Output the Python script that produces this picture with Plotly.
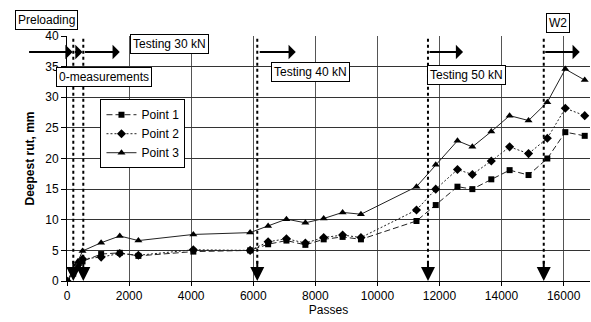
import plotly.graph_objects as go

passes = [0, 200, 350, 500, 1100, 1700, 2300, 4070, 5900, 6480, 7070, 7680, 8270, 8880, 9470,
          11260, 11880, 12580, 13060, 13670, 14260, 14870, 15475, 16055, 16680]
point1 = [0, 1.2, 2.2, 3.2, 4.4, 4.6, 4.1, 4.8, 5.0, 6.0, 6.6, 5.9, 6.8, 7.2, 6.8,
          9.8, 12.4, 15.4, 15.0, 16.6, 18.1, 17.3, 20.0, 24.3, 23.7]
point2 = [0, 1.5, 2.6, 3.6, 3.9, 4.5, 4.2, 5.1, 5.0, 6.4, 6.9, 6.2, 7.1, 7.5, 7.1,
          11.6, 15.0, 18.2, 17.4, 19.6, 21.9, 20.8, 23.3, 28.2, 27.0]
point3 = [0, 1.8, 3.2, 4.9, 6.25, 7.35, 6.6, 7.6, 7.9, 9.0, 10.1, 9.5, 10.2, 11.2, 10.9,
          15.4, 19.0, 22.9, 21.9, 24.4, 27.0, 26.2, 29.2, 34.6, 32.8]

x_ticks = [0, 2000, 4000, 6000, 8000, 10000, 12000, 14000, 16000]
y_ticks = [0, 5, 10, 15, 20, 25, 30, 35, 40]

# phase marker lines (passes) and horizontal phase arrows (start, end)
phase_lines = [203, 525, 6130, 11630, 15360]
phase_arrows = [(203, 500), (525, 1700), (6160, 7370), (11630, 12760), (15360, 16520)]
preload_arrow_end = 180
arrow_level = 37.4

# labels inside the data area: (text, x, y)
labels = [("Testing 30 kN", 3302, 38.7), ("0-measurements", 1192, 33.3),
          ("Testing 40 kN", 7829, 34.1), ("Testing 50 kN", 12880, 33.6)]
# labels above the plot area: (text, paper x, paper y)
top_labels = [("Preloading", -0.040, 1.064), ("W2", 0.9384, 1.053)]

FONT = "Arial, Liberation Sans, sans-serif"
fig = go.Figure()
fig.add_trace(go.Scatter(x=passes, y=point1, name="Point 1", mode="lines+markers",
                         line=dict(color="#222", width=1, dash="6px,3px"),
                         marker=dict(symbol="square", size=6, color="black")))
fig.add_trace(go.Scatter(x=passes, y=point2, name="Point 2", mode="lines+markers",
                         line=dict(color="#222", width=1, dash="2px,2px"),
                         marker=dict(symbol="diamond", size=7, color="black")))
fig.add_trace(go.Scatter(x=passes, y=point3, name="Point 3", mode="lines+markers",
                         line=dict(color="#222", width=1),
                         marker=dict(symbol="triangle-up", size=7, color="black")))

for xv in phase_lines:
    fig.add_shape(type="line", x0=xv, x1=xv, y0=41.5, y1=2.5, xref="x", yref="y",
                  line=dict(color="black", width=2, dash="dot"), layer="above")
    fig.add_annotation(x=xv, y=0, ax=xv, ay=3.5, xref="x", yref="y", axref="x", ayref="y",
                       text="", showarrow=True, arrowhead=2, arrowsize=1.4, arrowwidth=2,
                       arrowcolor="black")

fig.add_annotation(x=preload_arrow_end, y=arrow_level, ax=-45, ay=0, xref="x", yref="y",
                   text="", showarrow=True, arrowhead=1, arrowsize=1.2, arrowwidth=2,
                   arrowcolor="black")
for x0, x1 in phase_arrows:
    fig.add_annotation(x=x1, y=arrow_level, ax=x0, ay=arrow_level, xref="x", yref="y",
                       axref="x", ayref="y", text="", showarrow=True, arrowhead=1,
                       arrowsize=1.2, arrowwidth=2, arrowcolor="black")

for t, xv, yv in labels:
    fig.add_annotation(x=xv, y=yv, xref="x", yref="y", text=t, showarrow=False,
                       xanchor="center", yanchor="middle",
                       font=dict(family=FONT, size=12, color="black"),
                       bgcolor="white", bordercolor="black", borderwidth=1, borderpad=2)
for t, xv, yv in top_labels:
    fig.add_annotation(x=xv, y=yv, xref="paper", yref="paper", text=t, showarrow=False,
                       xanchor="center", yanchor="middle",
                       font=dict(family=FONT, size=12, color="black"),
                       bgcolor="white", bordercolor="black", borderwidth=1, borderpad=2)

fig.update_layout(
    width=591, height=322, margin=dict(l=67, r=1, t=36, b=41),
    plot_bgcolor="white", paper_bgcolor="white",
    font=dict(family=FONT, size=12, color="black"),
    legend=dict(x=0.064, y=0.742, xanchor="left", yanchor="top", bgcolor="white",
                bordercolor="black", borderwidth=1, font=dict(size=12),
                tracegroupgap=0),
    showlegend=True,
)
fig.update_xaxes(range=[0, 16850], tickvals=x_ticks, tickformat="d", ticks="outside",
                 ticklen=4, tickcolor="black", showline=True, linecolor="black", linewidth=1,
                 showgrid=True, gridcolor="#555", gridwidth=1, zeroline=False,
                 title=dict(text="Passes", font=dict(size=12), standoff=2),
                 tickfont=dict(size=12))
fig.update_yaxes(range=[0, 40], tickvals=y_ticks, ticks="outside", ticklen=5,
                 tickcolor="black", showline=True, linecolor="black", linewidth=1,
                 showgrid=True, gridcolor="#333", gridwidth=1, zeroline=False,
                 title=dict(text="<b>Deepest rut, mm</b>", font=dict(size=12), standoff=8),
                 tickfont=dict(size=12))

fig.write_html("out.html")
